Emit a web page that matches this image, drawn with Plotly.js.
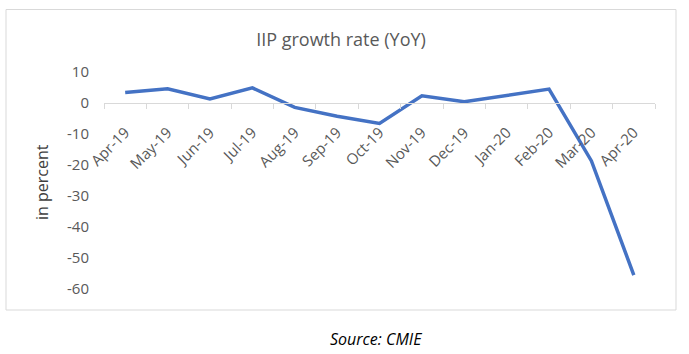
<!DOCTYPE html>
<html>
<head>
<meta charset="utf-8">
<script src="https://cdn.plot.ly/plotly-3.0.1.min.js"></script>
<style>
  html, body { margin: 0; padding: 0; background: #ffffff; }
  #chart { width: 689px; height: 354px; }
</style>
</head>
<body>
<div id="chart"></div>
<script>
// Data
const months = ['Apr-19','May-19','Jun-19','Jul-19','Aug-19','Sep-19','Oct-19','Nov-19','Dec-19','Jan-20','Feb-20','Mar-20','Apr-20'];
const growth = [3.4, 4.6, 1.3, 4.9, -1.4, -4.3, -6.6, 2.3, 0.4, 2.5, 4.5, -18.7, -55.5];
const yTicks = [10, 0, -10, -20, -30, -40, -50, -60];
const chartTitle = 'IIP growth rate (YoY)';
const yTitle = 'in percent';
const sourceText = 'Source: CMIE';

// Layout geometry (pixels)
const W = 689, H = 354;
const L = 104, R = 655, T = 72, B = 289;
const pw = R - L, ph = B - T;
const yMin = -60, yMax = 10;
const px = x => (x - L) / pw;
const py = y => (B - y) / ph;

const trace = {
  x: months,
  y: growth,
  type: 'scatter',
  mode: 'lines',
  line: { color: '#4472C4', width: 3.5 },
  hoverinfo: 'x+y'
};

const layout = {
  width: W, height: H,
  margin: { l: L, r: W - R, t: T, b: H - B, pad: 0 },
  paper_bgcolor: '#ffffff',
  plot_bgcolor: '#ffffff',
  showlegend: false,
  font: { family: '"Open Sans", "Noto Sans", sans-serif', color: '#595959' },
  title: {
    text: chartTitle,
    font: { family: '"Open Sans", sans-serif', size: 18, color: '#595959' },
    x: 341 / W, xref: 'container', xanchor: 'center',
    y: 1 - 40 / H, yref: 'container', yanchor: 'middle'
  },
  xaxis: {
    type: 'category',
    range: [-0.5, months.length - 0.5],
    anchor: 'free',
    position: (0 - yMin) / (yMax - yMin),
    showline: true, linecolor: '#d9d9d9', linewidth: 1,
    ticks: 'outside', tickson: 'boundaries', ticklen: 5, tickcolor: '#d9d9d9',
    tickangle: -45,
    ticklabelstandoff: 14,
    tickfont: { size: 15, color: '#595959' },
    showgrid: false, zeroline: false,
    fixedrange: true
  },
  yaxis: {
    range: [yMin, yMax],
    tickvals: yTicks,
    ticktext: yTicks.map(String),
    showgrid: false, zeroline: false, showline: false,
    ticks: '',
    ticklabelstandoff: 14,
    tickfont: { size: 15, color: '#595959' },
    fixedrange: true
  },
  shapes: [{
    type: 'rect', xref: 'paper', yref: 'paper',
    x0: px(6), x1: px(676), y0: py(310), y1: py(9.5),
    line: { color: '#d9d9d9', width: 1 },
    fillcolor: 'rgba(0,0,0,0)',
    layer: 'below'
  }],
  annotations: [
    {
      text: yTitle, xref: 'paper', yref: 'paper',
      x: px(42), y: py(182), xanchor: 'center', yanchor: 'middle',
      textangle: -90, showarrow: false,
      font: { size: 16, color: '#404040' }
    },
    {
      text: '<i>' + sourceText + '</i>', xref: 'paper', yref: 'paper',
      x: px(375.5), y: py(339), xanchor: 'center', yanchor: 'middle',
      showarrow: false,
      font: { size: 16, color: '#000000' }
    }
  ]
};

Plotly.newPlot('chart', [trace], layout, { displayModeBar: false, staticPlot: true });
</script>
</body>
</html>
